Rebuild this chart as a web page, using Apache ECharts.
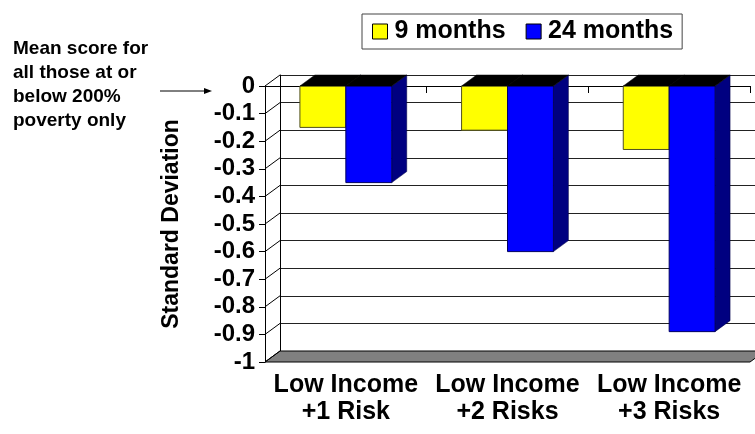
<!DOCTYPE html>
<html>
<head>
<meta charset="utf-8">
<script src="https://cdn.jsdelivr.net/npm/echarts@6/dist/echarts.min.js"></script>
<style>
html,body{margin:0;padding:0;background:#fff;}
#chart{width:755px;height:434px;}
</style>
</head>
<body>
<div id="chart"></div>
<script>
const categories = ['Low Income\n+1 Risk', 'Low Income\n+2 Risks', 'Low Income\n+3 Risks'];
const seriesNames = ['9 months', '24 months'];
const nineMonths = [-0.15, -0.16, -0.23];
const twentyFourMonths = [-0.35, -0.60, -0.89];
const yTicks = [0, -0.1, -0.2, -0.3, -0.4, -0.5, -0.6, -0.7, -0.8, -0.9, -1];
const yTitle = 'Standard Deviation';
const noteText = 'Mean score for\nall those at or\nbelow 200%\npoverty only';

const DX = 15, DY = 11;
const FONT = 'Liberation Sans, Arial, sans-serif';

function barRenderer(side, color, sideColor) {
  return function (params, api) {
    const idx = api.value(0), val = api.value(1);
    const p0 = api.coord([idx, 0]);
    const p1 = api.coord([idx, val]);
    const band = api.size([1, 0])[0];
    const w = band * 0.284;
    const x = side === 0 ? p0[0] - w : p0[0];
    const y0 = p0[1], y1 = p1[1];
    return {
      type: 'group',
      children: [
        { type: 'polygon', shape: { points: [[x + w, y0], [x + w + DX, y0 - DY], [x + w + DX, y1 - DY], [x + w, y1]] },
          style: { fill: sideColor, stroke: '#000040', lineWidth: 0.5 } },
        { type: 'rect', shape: { x: x, y: y0, width: w, height: y1 - y0 },
          style: { fill: color, stroke: side === 0 ? '#505020' : '#000060', lineWidth: 1 } },
        { type: 'polygon', shape: { points: [[x, y0], [x + w, y0], [x + w + DX, y0 - DY], [x + DX, y0 - DY]] },
          style: { fill: '#000', stroke: '#000', lineWidth: 0.5 } }
      ]
    };
  };
}

const chart = echarts.init(document.getElementById('chart'), null, { renderer: 'canvas' });
chart.setOption({
  animation: false,
  backgroundColor: '#fff',
  textStyle: { fontFamily: FONT },
  legend: {
    data: seriesNames,
    left: 362, top: 14,
    padding: [5, 9, 5, 10],
    itemGap: 20,
    itemWidth: 15, itemHeight: 15,
    icon: 'rect',
    borderColor: '#444', borderWidth: 1,
    itemStyle: { borderColor: '#000', borderWidth: 1 },
    textStyle: { fontSize: 25, fontWeight: 'bold', color: '#000', fontFamily: FONT, padding: [0, 0, 0, 2] }
  },
  grid: [
    { left: 265, right: 5, top: 86, bottom: 72, containLabel: false },
    { left: 265 + DX, right: 5 - DX, top: 86 - DY, bottom: 72 + DY, containLabel: false }
  ],
  xAxis: [
    { type: 'category', gridIndex: 0, data: categories, position: 'bottom',
      axisLine: { show: true, lineStyle: { color: '#000', width: 1 } },
      axisTick: { show: true, length: 7, lineStyle: { color: '#000' } },
      axisLabel: { interval: 0, hideOverlap: false, fontSize: 25, fontWeight: 'bold', color: '#000', fontFamily: FONT, lineHeight: 27, margin: 10 } },
    { type: 'category', gridIndex: 0, data: categories, position: 'top',
      axisLine: { show: false }, axisLabel: { show: false },
      axisTick: { show: true, inside: true, length: 6, lineStyle: { color: '#000' } } },
    { type: 'category', gridIndex: 1, data: categories, show: false }
  ],
  yAxis: [
    { type: 'value', gridIndex: 0, min: -1, max: 0, interval: 0.1,
      axisLine: { show: true, lineStyle: { color: '#000', width: 1 } },
      axisTick: { show: true, length: 6, lineStyle: { color: '#000' } },
      splitLine: { show: false },
      axisLabel: { fontSize: 24, fontWeight: 'bold', color: '#000', fontFamily: FONT, margin: 10,
        formatter: function (v) { const r = Math.round(v * 10) / 10; return r === 0 ? '0' : (r === -1 ? '-1' : r.toFixed(1)); } },
      name: yTitle, nameLocation: 'middle', nameGap: 82, nameRotate: 90,
      nameTextStyle: { fontSize: 23, fontWeight: 'bold', color: '#000', fontFamily: FONT } },
    { type: 'value', gridIndex: 1, min: -1, max: 0, interval: 0.1,
      axisLine: { show: true, lineStyle: { color: '#000', width: 1 } },
      axisTick: { show: false }, axisLabel: { show: false },
      splitLine: { show: true, lineStyle: { color: '#222', width: 1 } } }
  ],
  graphic: [
    { type: 'text', left: 13, top: 37, silent: true,
      style: { text: noteText, font: 'bold 19px ' + FONT, fill: '#000', lineHeight: 24 } },
    { type: 'line', silent: true, shape: { x1: 160, y1: 91, x2: 206, y2: 91 }, style: { stroke: '#000', lineWidth: 1 } },
    { type: 'polygon', silent: true, shape: { points: [[212, 91], [204, 88], [204, 94]] }, style: { fill: '#000' } }
  ],
  series: [
    { type: 'custom', name: 'floor', xAxisIndex: 0, yAxisIndex: 0, silent: true, z: 2,
      data: [[0, -1]],
      renderItem: function (params, api) {
        const cs = params.coordSys;
        const yb = api.coord([0, api.value(1)])[1];
        return { type: 'polygon',
          shape: { points: [[cs.x, yb], [cs.x + cs.width, yb], [cs.x + cs.width + DX, yb - DY], [cs.x + DX, yb - DY]] },
          style: { fill: '#808080', stroke: '#000', lineWidth: 1 } };
      } },
    { type: 'custom', name: 'connectors', xAxisIndex: 0, yAxisIndex: 0, silent: true, z: 2,
      data: yTicks.map(function (v) { return [0, v]; }),
      renderItem: function (params, api) {
        const cs = params.coordSys;
        const y = api.coord([0, api.value(1)])[1];
        return { type: 'line', shape: { x1: cs.x, y1: y, x2: cs.x + DX, y2: y - DY },
          style: { stroke: '#000', lineWidth: 1 } };
      } },
    { type: 'custom', name: seriesNames[0], xAxisIndex: 0, yAxisIndex: 0, z: 3,
      itemStyle: { color: '#ffff00' },
      data: nineMonths.map(function (v, i) { return [i, v]; }),
      renderItem: barRenderer(0, '#ffff00', '#808000') },
    { type: 'custom', name: seriesNames[1], xAxisIndex: 0, yAxisIndex: 0, z: 3,
      itemStyle: { color: '#0000ff' },
      data: twentyFourMonths.map(function (v, i) { return [i, v]; }),
      renderItem: barRenderer(1, '#0000ff', '#000080') }
  ]
});
</script>
</body>
</html>
